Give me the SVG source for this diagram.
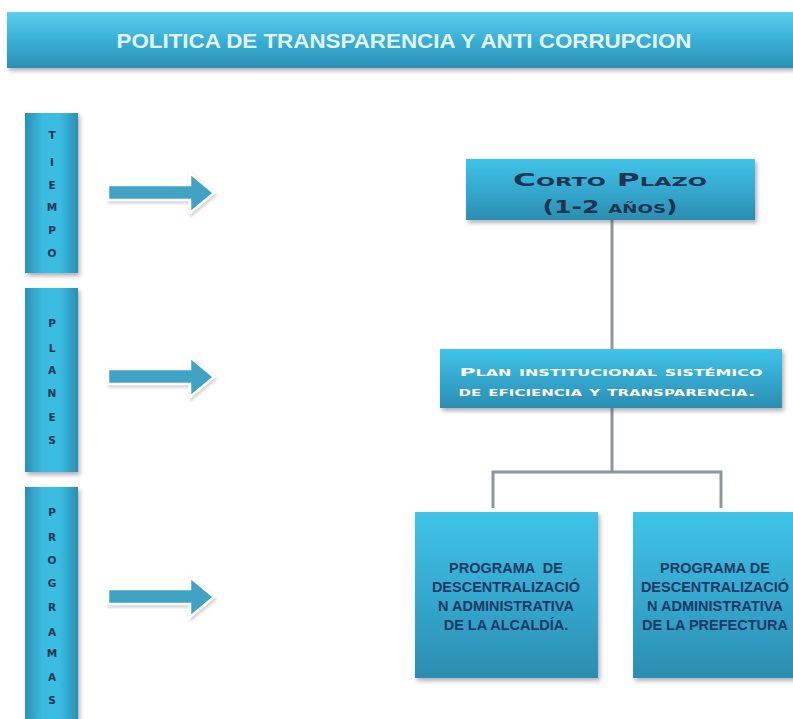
<svg xmlns="http://www.w3.org/2000/svg" width="793" height="719" viewBox="0 0 793 719">
<defs>
<linearGradient id="gBox" x1="0" y1="0" x2="0" y2="1">
<stop offset="0" stop-color="#3fc4e8"/>
<stop offset="0.5" stop-color="#35a9cf"/>
<stop offset="1" stop-color="#2b8db0"/>
</linearGradient>
<linearGradient id="gHead" x1="0" y1="0" x2="0" y2="1">
<stop offset="0" stop-color="#5ccfee"/>
<stop offset="0.5" stop-color="#38b0d6"/>
<stop offset="1" stop-color="#2b8fb2"/>
</linearGradient>
<linearGradient id="gBar" x1="0" y1="0" x2="1" y2="0">
<stop offset="0" stop-color="#2b8fb2"/>
<stop offset="0.35" stop-color="#3bbde2"/>
<stop offset="0.65" stop-color="#3bbde2"/>
<stop offset="1" stop-color="#2b8fb2"/>
</linearGradient>
<filter id="sh" x="-10%" y="-10%" width="130%" height="130%">
<feDropShadow dx="2" dy="3" stdDeviation="2" flood-color="#556" flood-opacity="0.45"/>
</filter>
<filter id="glow" x="-20%" y="-40%" width="140%" height="180%">
<feDropShadow dx="1" dy="2" stdDeviation="1.5" flood-color="#999" flood-opacity="0.5"/>
</filter>
</defs>
<style>
.box{fill:url(#gBox);filter:url(#sh)}
.bar{fill:url(#gBar);filter:url(#sh)}
.arrow{fill:#3fa3c4;stroke:#ffffff;stroke-width:2.5;stroke-linejoin:miter;filter:url(#glow)}
.conn{fill:none;stroke:#8c979d;stroke-width:3}
.title{font-family:"Liberation Sans",Arial,sans-serif;font-weight:bold;font-size:21px;fill:#e4f7fc;text-anchor:middle}
.vl{font-family:"DejaVu Sans",sans-serif;font-weight:bold;font-size:10.5px;fill:#1c3552;text-anchor:middle}
.cp{font-family:"DejaVu Sans",sans-serif;font-weight:bold;font-size:18px;fill:#1d3550;text-anchor:middle;font-variant:small-caps}
.pl{font-family:"DejaVu Sans",sans-serif;font-weight:bold;font-size:11px;fill:#ffffff;text-anchor:middle;font-variant:small-caps}
.pg{font-family:"Liberation Sans",Arial,sans-serif;font-weight:bold;font-size:14.5px;fill:#1b3a66;text-anchor:middle;white-space:pre}
</style>

<g id="header">
<rect x="7" y="12" width="800" height="56" fill="url(#gHead)" filter="url(#sh)"/>
<text class="title" x="404" y="48" textLength="575" lengthAdjust="spacingAndGlyphs">POLITICA DE TRANSPARENCIA Y ANTI CORRUPCION</text>
</g>

<g id="tiempo">
<rect class="bar" x="25" y="113" width="53" height="160"/>
<text class="vl" x="52" y="139">T</text>
<text class="vl" x="52" y="166">I</text>
<text class="vl" x="52" y="189">E</text>
<text class="vl" x="52" y="211">M</text>
<text class="vl" x="52" y="234">P</text>
<text class="vl" x="52" y="257">O</text>
</g>

<g id="planes">
<rect class="bar" x="25" y="288" width="53" height="184"/>
<text class="vl" x="52" y="327">P</text>
<text class="vl" x="52" y="352">L</text>
<text class="vl" x="52" y="374">A</text>
<text class="vl" x="52" y="397">N</text>
<text class="vl" x="52" y="421">E</text>
<text class="vl" x="52" y="444">S</text>
</g>

<g id="programas">
<rect class="bar" x="25" y="487" width="53" height="240"/>
<text class="vl" x="52" y="516">P</text>
<text class="vl" x="52" y="541">R</text>
<text class="vl" x="52" y="564">O</text>
<text class="vl" x="52" y="587">G</text>
<text class="vl" x="52" y="611">R</text>
<text class="vl" x="52" y="636">A</text>
<text class="vl" x="52" y="657">M</text>
<text class="vl" x="52" y="681">A</text>
<text class="vl" x="52" y="704">S</text>
</g>

<g id="arrow1">
<polygon class="arrow" points="108,185 190,185 190,173 214,193 190,213 190,200 108,200"/>
</g>
<g id="arrow2">
<polygon class="arrow" points="108,369 190,369 190,357 214,377 190,397 190,384 108,384"/>
</g>
<g id="arrow3">
<polygon class="arrow" points="108,589 190,589 190,577 214,597 190,617 190,604 108,604"/>
</g>

<g id="connectors">
<line class="conn" x1="612" y1="220" x2="612" y2="349"/>
<line class="conn" x1="612" y1="408" x2="612" y2="472"/>
<polyline class="conn" points="493,508 493,472 721,472 721,508"/>
</g>

<g id="corto-plazo">
<rect class="box" x="466" y="159" width="289" height="61"/>
<text class="cp" x="610" y="186" textLength="194" lengthAdjust="spacingAndGlyphs">Corto Plazo</text>
<text class="cp" x="610" y="213" textLength="135" lengthAdjust="spacingAndGlyphs">(1-2 años)</text>
</g>

<g id="plan">
<rect class="box" x="440" y="349" width="342" height="59"/>
<text class="pl" x="611" y="376" textLength="303" lengthAdjust="spacingAndGlyphs">Plan institucional sistémico</text>
<text class="pl" x="607" y="396" textLength="297" lengthAdjust="spacingAndGlyphs">de eficiencia y transparencia.</text>
</g>

<g id="prog-alcaldia">
<rect class="box" x="415" y="512" width="183" height="166"/>
<text class="pg" x="506" y="573">PROGRAMA  DE</text>
<text class="pg" x="506" y="592">DESCENTRALIZACIÓ</text>
<text class="pg" x="506" y="611">N ADMINISTRATIVA</text>
<text class="pg" x="506" y="630">DE LA ALCALDÍA.</text>
</g>

<g id="prog-prefectura">
<rect class="box" x="633" y="512" width="180" height="166"/>
<text class="pg" x="715" y="573">PROGRAMA DE</text>
<text class="pg" x="715" y="592">DESCENTRALIZACIÓ</text>
<text class="pg" x="715" y="611">N ADMINISTRATIVA</text>
<text class="pg" x="715" y="630">DE LA PREFECTURA</text>
</g>
</svg>
